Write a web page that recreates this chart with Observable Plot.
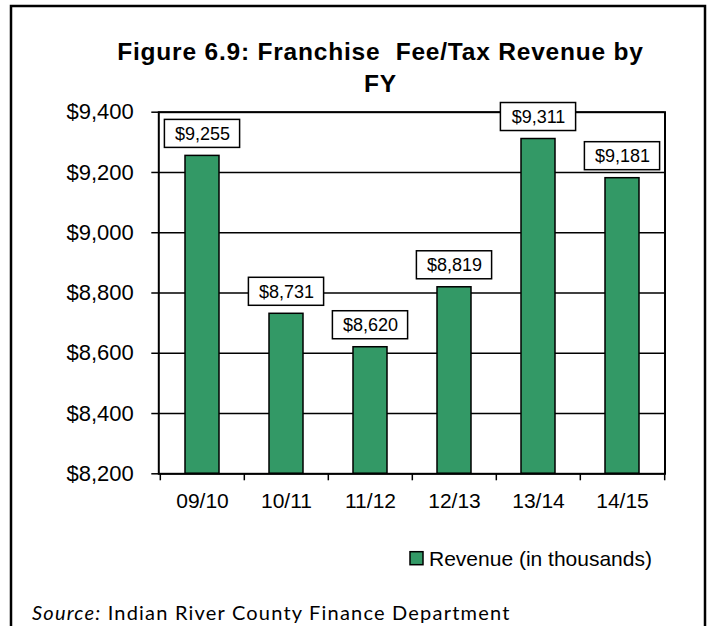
<!DOCTYPE html>
<html>
<head>
<meta charset="utf-8">
<script src="https://cdn.jsdelivr.net/npm/d3@7"></script>
<script src="https://cdn.jsdelivr.net/npm/@observablehq/plot@0.6"></script>
<style>
  html, body { margin: 0; padding: 0; background: #fff; }
  #wrap { position: relative; width: 708px; height: 626px; overflow: hidden; }
  #wrap > svg { position: absolute; left: 0; top: 0; }
</style>
</head>
<body>
<div id="wrap"></div>
<script>
// ---- data ----
const years = ["09/10", "10/11", "11/12", "12/13", "13/14", "14/15"];
const revenue = [9255, 8731, 8620, 8819, 9311, 9181];
const yTicks = [8200, 8400, 8600, 8800, 9000, 9200, 9400];
const titleLines = ["Figure 6.9: Franchise  Fee/Tax Revenue by", "FY"];
const legendLabel = "Revenue (in thousands)";
const sourceLabel = "Source:";
const sourceText = "Indian River County Finance Department";

const data = years.map((y, i) => ({year: y, value: revenue[i]}));
const money = d => "$" + d3.format(",")(d);

const W = 708, H = 626;
const mt = 111.7, mb = H - 473.3, ml = 158.3, mr = W - 664.5;
const step = (W - ml - mr) / years.length;
const green = "#339966";
const font = "'Liberation Sans', Arial, sans-serif";

const chart = Plot.plot({
  width: W,
  height: H,
  marginTop: mt,
  marginBottom: mb,
  marginLeft: ml,
  marginRight: mr,
  style: {fontFamily: font, background: "transparent", color: "black"},
  x: {domain: years, paddingInner: 0.6, paddingOuter: 0.3, label: null},
  y: {domain: [yTicks[0], yTicks[yTicks.length - 1]], label: null},
  marks: [
    Plot.gridY({ticks: yTicks, stroke: "black", strokeOpacity: 1, strokeWidth: 1.5}),
    Plot.barY(data, {x: "year", y1: () => yTicks[0], y2: "value", fill: green, stroke: "black", strokeWidth: 1.5}),
    Plot.frame({stroke: "black", strokeWidth: 2}),
    Plot.axisY({ticks: yTicks, tickSize: 7, tickPadding: 18, tickFormat: money, fontSize: 22, stroke: "black", strokeWidth: 1.5, label: null}),
    Plot.axisX({tickSize: 0, tickPadding: 19, fontSize: 21, label: null}),
    Plot.ruleX(data, {x: "year", y1: () => yTicks[0], y2: () => yTicks[0], dx: -step / 2, insetBottom: -7, stroke: "black", strokeWidth: 1.5}),
    Plot.ruleX(data.slice(-1), {x: "year", y1: () => yTicks[0], y2: () => yTicks[0], dx: step / 2, insetBottom: -7, stroke: "black", strokeWidth: 1.5}),
    Plot.barY(data, {x: "year", y1: "value", y2: "value", fill: "white", stroke: "black", strokeWidth: 1.5,
      insetLeft: -20.6, insetRight: -20.6, insetTop: -36, insetBottom: 8}),
    Plot.text(data, {x: "year", y: "value", text: d => money(d.value), dy: -22, fontSize: 18, lineAnchor: "middle", fill: "black"})
  ]
});

const wrap = document.getElementById("wrap");
wrap.appendChild(chart);

// overlay: border, title, legend, source
const ns = "http://www.w3.org/2000/svg";
const ov = d3.create("svg").attr("width", W).attr("height", H).attr("xmlns", ns)
  .style("pointer-events", "none");
ov.append("rect").attr("x", 11).attr("y", 6).attr("width", 694).attr("height", 700)
  .attr("fill", "none").attr("stroke", "black").attr("stroke-width", 2.5);
const t = ov.append("text").attr("text-anchor", "middle").attr("font-family", font)
  .attr("font-weight", "bold").attr("font-size", 24.5).attr("letter-spacing", 0.8)
  .style("white-space", "pre");
titleLines.forEach((s, i) => t.append("tspan").attr("x", 380.5).attr("y", 60 + i * 32).text(s));
ov.append("rect").attr("x", 410).attr("y", 551.7).attr("width", 13).attr("height", 13)
  .attr("fill", green).attr("stroke", "black").attr("stroke-width", 1.5);
ov.append("text").attr("x", 429).attr("y", 566).attr("font-family", font).attr("font-size", 21)
  .text(legendLabel);
const s = ov.append("text").attr("x", 32).attr("y", 620).attr("font-family", "Lato, 'Open Sans', sans-serif")
  .attr("font-size", 20).attr("letter-spacing", 1.2);
s.append("tspan").attr("font-style", "italic").text(sourceLabel);
s.append("tspan").text(" " + sourceText);
wrap.appendChild(ov.node());
</script>
</body>
</html>
